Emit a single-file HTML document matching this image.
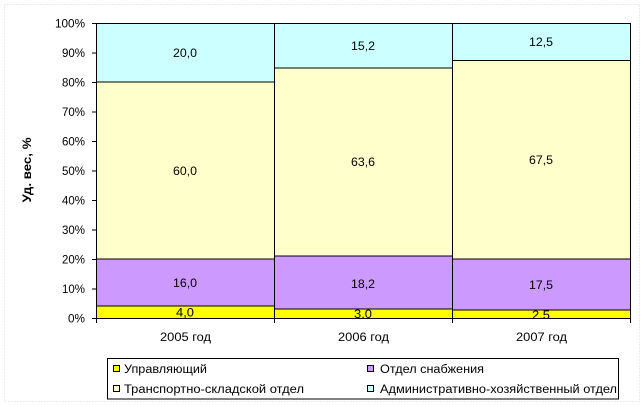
<!DOCTYPE html>
<html><head><meta charset="utf-8"><style>
html,body{margin:0;padding:0;background:#fff;}
svg{display:block;font-family:"Liberation Sans","DejaVu Sans",sans-serif;}
</style></head><body>
<svg width="643" height="407" viewBox="0 0 643 407" xmlns="http://www.w3.org/2000/svg">
<rect x="0" y="0" width="643" height="407" fill="#fff"/>
<rect x="4.5" y="4.5" width="635" height="397" fill="none" stroke="#d8d8d8" stroke-dasharray="1,2"/>
<defs><clipPath id="pc"><rect x="96" y="23" width="535" height="295.5"/></clipPath></defs>
<g shape-rendering="crispEdges" stroke="#000" stroke-width="1">
<rect x="96.5" y="23.5" width="178" height="58.5" fill="#CCFFFF"/>
<rect x="96.5" y="82" width="178" height="177" fill="#FFFFCC"/>
<rect x="96.5" y="259" width="178" height="47" fill="#CC99FF"/>
<rect x="96.5" y="306" width="178" height="12.5" fill="#FFFF00"/>
<rect x="274.5" y="23.5" width="178" height="44.5" fill="#CCFFFF"/>
<rect x="274.5" y="68" width="178" height="188" fill="#FFFFCC"/>
<rect x="274.5" y="256" width="178" height="53" fill="#CC99FF"/>
<rect x="274.5" y="309" width="178" height="9.5" fill="#FFFF00"/>
<rect x="452.5" y="23.5" width="178" height="37" fill="#CCFFFF"/>
<rect x="452.5" y="60.5" width="178" height="198.5" fill="#FFFFCC"/>
<rect x="452.5" y="259" width="178" height="51" fill="#CC99FF"/>
<rect x="452.5" y="310" width="178" height="8.5" fill="#FFFF00"/>
<line x1="96.5" y1="23" x2="96.5" y2="323"/>
<line x1="92" y1="318.5" x2="631" y2="318.5"/>
<line x1="274.5" y1="318" x2="274.5" y2="323"/>
<line x1="452.5" y1="318" x2="452.5" y2="323"/>
<line x1="630.5" y1="318" x2="630.5" y2="323"/>
<line x1="92" y1="23.5" x2="96" y2="23.5"/>
<line x1="92" y1="53" x2="96" y2="53"/>
<line x1="92" y1="82.5" x2="96" y2="82.5"/>
<line x1="92" y1="112" x2="96" y2="112"/>
<line x1="92" y1="141.5" x2="96" y2="141.5"/>
<line x1="92" y1="171" x2="96" y2="171"/>
<line x1="92" y1="200.5" x2="96" y2="200.5"/>
<line x1="92" y1="230" x2="96" y2="230"/>
<line x1="92" y1="259.5" x2="96" y2="259.5"/>
<line x1="92" y1="289" x2="96" y2="289"/>
</g>
<g font-size="11.5" fill="#000" text-anchor="end" lengthAdjust="spacingAndGlyphs">
<text x="85" y="27.5" textLength="30" lengthAdjust="spacingAndGlyphs">100%</text>
<text x="85" y="57" textLength="23" lengthAdjust="spacingAndGlyphs">90%</text>
<text x="85" y="86.5" textLength="23" lengthAdjust="spacingAndGlyphs">80%</text>
<text x="85" y="116" textLength="23" lengthAdjust="spacingAndGlyphs">70%</text>
<text x="85" y="145.5" textLength="23" lengthAdjust="spacingAndGlyphs">60%</text>
<text x="85" y="175" textLength="23" lengthAdjust="spacingAndGlyphs">50%</text>
<text x="85" y="204.5" textLength="23" lengthAdjust="spacingAndGlyphs">40%</text>
<text x="85" y="234" textLength="23" lengthAdjust="spacingAndGlyphs">30%</text>
<text x="85" y="263.5" textLength="23" lengthAdjust="spacingAndGlyphs">20%</text>
<text x="85" y="293" textLength="23" lengthAdjust="spacingAndGlyphs">10%</text>
<text x="85" y="322.5" textLength="17" lengthAdjust="spacingAndGlyphs">0%</text>
</g>
<g font-size="11.5" fill="#000" text-anchor="middle">
<text x="185" y="57" textLength="24" lengthAdjust="spacingAndGlyphs">20,0</text>
<text x="185" y="175" textLength="24" lengthAdjust="spacingAndGlyphs">60,0</text>
<text x="185" y="287" textLength="24" lengthAdjust="spacingAndGlyphs">16,0</text>
<text x="363" y="50" textLength="24" lengthAdjust="spacingAndGlyphs">15,2</text>
<text x="363" y="166" textLength="24" lengthAdjust="spacingAndGlyphs">63,6</text>
<text x="363" y="288" textLength="24" lengthAdjust="spacingAndGlyphs">18,2</text>
<text x="541" y="46" textLength="24" lengthAdjust="spacingAndGlyphs">12,5</text>
<text x="541" y="164" textLength="24" lengthAdjust="spacingAndGlyphs">67,5</text>
<text x="541" y="289" textLength="24" lengthAdjust="spacingAndGlyphs">17,5</text>
<g clip-path="url(#pc)">
<text x="185" y="316.7" textLength="18" lengthAdjust="spacingAndGlyphs">4,0</text>
<text x="363" y="318" textLength="18" lengthAdjust="spacingAndGlyphs">3,0</text>
<text x="541" y="319" textLength="18" lengthAdjust="spacingAndGlyphs">2,5</text>
</g>
<text x="185.5" y="341" textLength="51" lengthAdjust="spacingAndGlyphs">2005 год</text>
<text x="363.5" y="341" textLength="51" lengthAdjust="spacingAndGlyphs">2006 год</text>
<text x="541.5" y="341" textLength="51" lengthAdjust="spacingAndGlyphs">2007 год</text>
</g>
<text transform="translate(31,170) rotate(-90)" font-size="11.5" font-weight="bold" text-anchor="middle" textLength="65" lengthAdjust="spacingAndGlyphs">Уд. вес, %</text>
<g shape-rendering="crispEdges">
<rect x="107.5" y="358.5" width="511" height="40.5" fill="#fff" stroke="#000"/>
<rect x="113.5" y="365.5" width="6" height="6" fill="#FFFF00" stroke="#000"/>
<rect x="113.5" y="385.5" width="6" height="6" fill="#FFFFCC" stroke="#000"/>
<rect x="367.5" y="365.5" width="6" height="6" fill="#CC99FF" stroke="#000"/>
<rect x="367.5" y="385.5" width="6" height="6" fill="#CCFFFF" stroke="#000"/>
</g>
<g font-size="11.5" fill="#000">
<text x="124" y="373" textLength="83" lengthAdjust="spacingAndGlyphs">Управляющий</text>
<text x="124" y="393" textLength="180" lengthAdjust="spacingAndGlyphs">Транспортно-складской отдел</text>
<text x="380" y="373" textLength="104" lengthAdjust="spacingAndGlyphs">Отдел снабжения</text>
<text x="380" y="393" textLength="237" lengthAdjust="spacingAndGlyphs">Административно-хозяйственный отдел</text>
</g>
</svg>
</body></html>
